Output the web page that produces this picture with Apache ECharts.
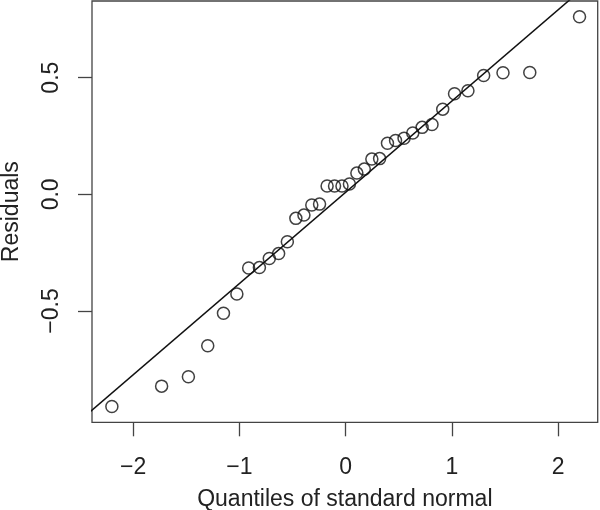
<!DOCTYPE html>
<html>
<head>
<meta charset="utf-8">
<script src="https://cdn.jsdelivr.net/npm/echarts@6/dist/echarts.min.js"></script>
<style>html,body{margin:0;padding:0;background:#fff}#c{width:600px;height:510px}</style>
</head>
<body>
<div id="c"></div>
<script>
// Theoretical quantiles (x) and residuals (y)
const theoQuantiles = [-2.200, -1.732, -1.480, -1.298, -1.150, -1.024, -0.913, -0.812, -0.719, -0.631, -0.549, -0.469, -0.393, -0.319, -0.246, -0.175, -0.105, -0.035, 0.035, 0.105, 0.175, 0.246, 0.319, 0.393, 0.469, 0.549, 0.631, 0.719, 0.812, 0.913, 1.024, 1.150, 1.298, 1.480, 1.732, 2.200];
const residuals = [-0.909, -0.822, -0.782, -0.649, -0.510, -0.427, -0.316, -0.314, -0.275, -0.254, -0.203, -0.103, -0.089, -0.046, -0.042, 0.036, 0.036, 0.036, 0.044, 0.091, 0.108, 0.151, 0.153, 0.219, 0.231, 0.240, 0.263, 0.287, 0.299, 0.365, 0.431, 0.444, 0.509, 0.521, 0.522, 0.761];
// Reference (qq) line endpoints
const qqLineX = [-2.6, 2.6];
const qqLineY = [-1.008, 1.026];
// Tick labels
const xTicks = [-2, -1, 0, 1, 2];
const yTicks = [-0.5, 0.0, 0.5];

const pts = theoQuantiles.map((x, i) => [x, residuals[i]]);
const line = qqLineX.map((x, i) => [x, qqLineY[i]]);
const font = '"Liberation Sans", Arial, Helvetica, sans-serif';

const chart = echarts.init(document.getElementById('c'), null, {renderer: 'canvas'});
chart.setOption({
  animation: false,
  backgroundColor: '#ffffff',
  grid: {left: 92, top: 1, right: 2.3, bottom: 87.7, containLabel: false, outerBoundsMode: 'none',
    show: true, borderColor: '#444', borderWidth: 1.3, backgroundColor: 'transparent'},
  xAxis: {
    type: 'value', min: -2.387, max: 2.371,
    name: 'Quantiles of standard normal', nameLocation: 'middle', nameGap: 66,
    nameTextStyle: {fontFamily: font, fontSize: 23, color: '#222'},
    axisLine: {show: false, onZero: false},
    axisTick: {show: true, inside: false, length: 14, lineStyle: {color: '#444', width: 1.3}, customValues: xTicks},
    axisLabel: {show: true, margin: 34, fontFamily: font, fontSize: 23, color: '#222', customValues: xTicks,
      formatter: v => (v < 0 ? '\u2212' + Math.abs(v) : String(v))},
    splitLine: {show: false}
  },
  yAxis: {
    type: 'value', min: -0.977, max: 0.8285,
    name: 'Residuals', nameLocation: 'middle', nameGap: 69, nameRotate: 90,
    nameTextStyle: {fontFamily: font, fontSize: 23, color: '#222'},
    axisLine: {show: false, onZero: false},
    axisTick: {show: true, inside: false, length: 14, lineStyle: {color: '#444', width: 1.3}, customValues: yTicks},
    axisLabel: {show: true, rotate: 90, margin: 29, fontFamily: font, fontSize: 23, color: '#222', customValues: yTicks,
      formatter: v => (v < 0 ? '\u2212' + Math.abs(v).toFixed(1) : v.toFixed(1))},
    splitLine: {show: false}
  },
  series: [
    {type: 'line', data: line, showSymbol: false, clip: true, silent: true,
      lineStyle: {color: '#111', width: 1.5}},
    {type: 'scatter', data: pts, symbol: 'circle', symbolSize: 12, clip: true,
      itemStyle: {color: 'rgba(0,0,0,0)', borderColor: '#111', borderWidth: 1.5}}
  ]
});
</script>
</body>
</html>
